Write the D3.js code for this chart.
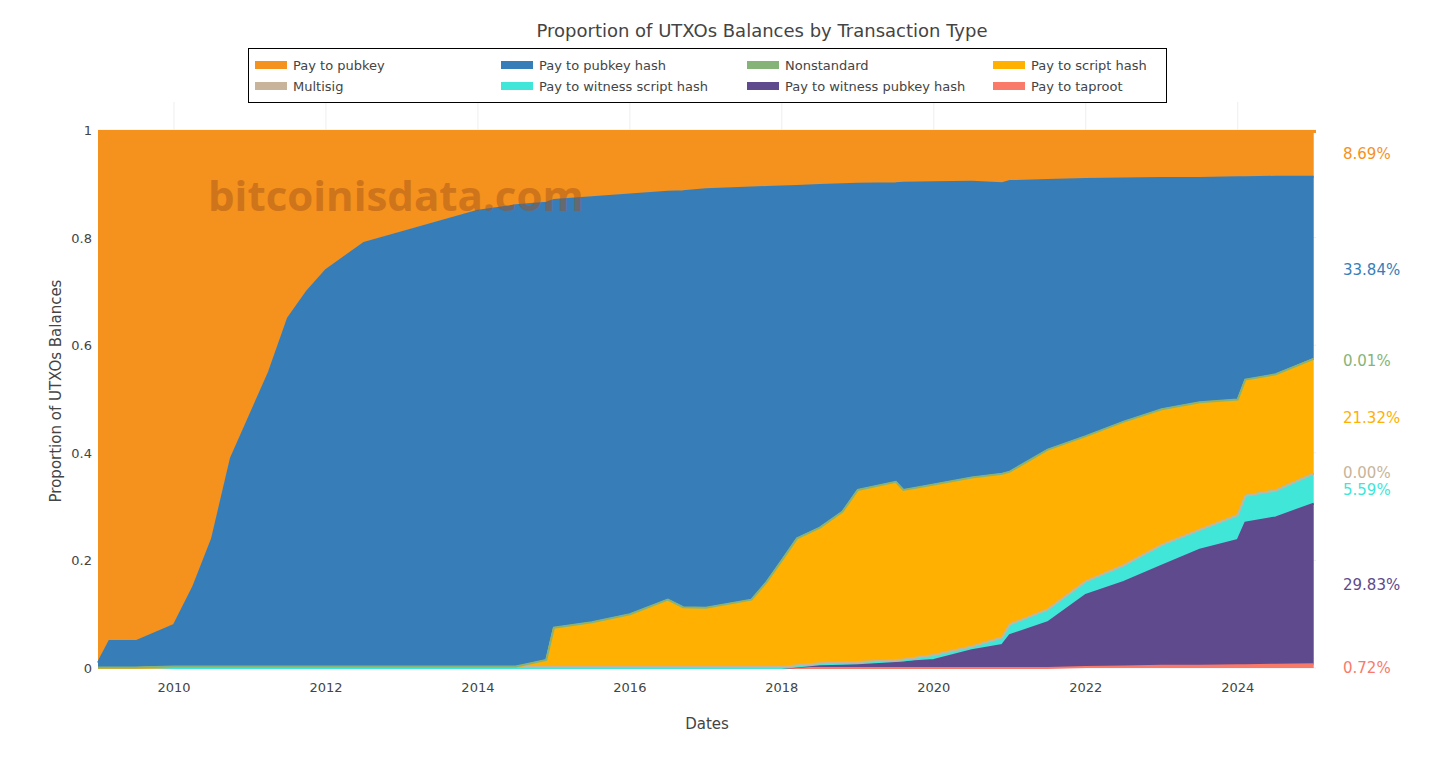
<!DOCTYPE html>
<html><head><meta charset="utf-8">
<script src="https://cdn.jsdelivr.net/npm/d3@7"></script>
<style>body{margin:0;background:#fff;font-family:"DejaVu Sans",sans-serif}</style>
</head><body><svg id="c" width="1456" height="762" font-family="DejaVu Sans, sans-serif"></svg>
<script>
const dates=[2009.0,2009.15,2009.5,2010.0,2010.25,2010.5,2010.75,2011.0,2011.25,2011.5,2011.75,2012.0,2012.5,2013.0,2013.5,2014.0,2014.5,2014.9,2015.0,2015.5,2016.0,2016.5,2016.7,2017.0,2017.6,2017.8,2018.0,2018.2,2018.5,2018.8,2019.0,2019.5,2019.6,2020.0,2020.5,2020.9,2021.0,2021.5,2022.0,2022.5,2023.0,2023.5,2024.0,2024.1,2024.5,2025.0];
const taproot=[0,0,0,0,0,0,0,0,0,0,0,0,0,0,0,0,0,0,0,0,0,0,0,0,0,0,0,0,0,0,0,0,0,0,0,0,0,0,.002,.003,.004,.004,.005,.005,.006,.0072];
const p2wpkh=[0,0,0,0,0,0,0,0,0,0,0,0,0,0,0,0,0,0,0,0,0,0,0,0,0,0,0,.002,.005,.006,.007,.010,.011,.015,.033,.043,.061,.085,.134,.157,.186,.216,.233,.265,.274,.2983];
const p2wsh=[0,0,0,0,0,0,0,0,0,0,0,0,0,0,0,0,0,0,0,0,0,0,0,0,0,0,0,.001,.002,.002,.002,.003,.003,.007,.006,.013,.019,.023,.024,.03,.038,.036,.046,.05,.05,.0559];
const multisig=[0,0,0,.002,.002,.002,.002,.002,.002,.002,.002,.002,.002,.002,.002,.002,.002,.002,.002,.002,.002,.002,.002,.002,.002,.002,.002,.002,.002,.002,.002,.002,.002,.002,.001,.001,.001,.001,.001,.001,.001,.001,0,0,0,0];
const p2sh=[0,0,0,0,0,0,0,0,0,0,0,0,0,0,0,0,0,.012,.072,.082,.097,.124,.11,.109,.124,.157,.197,.235,.251,.28,.319,.33,.314,.316,.313,.303,.283,.296,.269,.266,.251,.236,.214,.215,.215,.2132];
const nonstandard=[.001,.001,.001,.001,.001,.001,.001,.001,.001,.001,.001,.001,.001,.001,.001,.001,.001,.001,.001,.001,.001,.001,.001,.001,.001,.001,.001,.001,.001,.001,.001,.001,.001,.001,.001,.001,.001,.001,.001,.001,.001,.001,.001,.001,.001,.0001];
const p2pkh=[.009,.049,.049,.077,.147,.237,.387,.467,.547,.647,.697,.737,.787,.807,.827,.847,.857,.85,.795,.79,.78,.758,.773,.778,.766,.734,.695,.655,.637,.608,.569,.555,.571,.562,.55,.54,.54,.501,.478,.452,.43,.417,.413,.376,.367,.3384];
const p2pk=[.99,.95,.95,.92,.85,.76,.61,.53,.45,.35,.30,.26,.21,.19,.17,.15,.14,.135,.13,.125,.12,.115,.114,.11,.107,.106,.105,.104,.102,.101,.10,.099,.098,.097,.096,.099,.095,.093,.091,.090,.089,.089,.088,.088,.087,.0869];
const seriesNames=["Pay to taproot","Pay to witness pubkey hash","Pay to witness script hash","Multisig","Pay to script hash","Nonstandard","Pay to pubkey hash","Pay to pubkey"];
const seriesVals=[taproot,p2wpkh,p2wsh,multisig,p2sh,nonstandard,p2pkh,p2pk];
const colors=["#fa7a6a","#5e4a8c","#40e6d8","#c8b49a","#ffb000","#86b478","#377eb8","#f5911d"];
const endLabels=["0.72%","29.83%","5.59%","0.00%","21.32%","0.01%","33.84%","8.69%"];
const labelY=[0.0,0.155,0.330,0.362,0.464,0.571,0.740,0.955];
const legendOrder=[7,6,5,4,3,2,1,0];
const yTicks=[0,0.2,0.4,0.6,0.8,1];
const xTicks=[2010,2012,2014,2016,2018,2020,2022,2024];

const svg=d3.select("#c");
const L=98,R=1316,T=130,B=668;
const x=d3.scaleLinear().domain([2009,2025.03]).range([L,R]);
const y=d3.scaleLinear().domain([0,1]).range([B,T]);
const rows=dates.map((d,i)=>{const o={date:d};seriesNames.forEach((n,k)=>o[n]=seriesVals[k][i]);return o;});
const stacked=d3.stack().keys(seriesNames)(rows);

svg.append("g").selectAll("line").data(xTicks).join("line")
 .attr("x1",d=>x(d)).attr("x2",d=>x(d)).attr("y1",102).attr("y2",B).attr("stroke","#eee");
svg.append("g").selectAll("line").data(yTicks).join("line")
 .attr("x1",L).attr("x2",R).attr("y1",d=>y(d)).attr("y2",d=>y(d)).attr("stroke","#eee");

const area=d3.area().x(d=>x(d.data.date)).y0(d=>y(Math.min(1,d[0]))).y1(d=>y(Math.min(1,d[1]))); 
const line=d3.line().x(d=>x(d.data.date)).y(d=>y(Math.min(1,d[1])));
const g=svg.append("g");
stacked.forEach((s,k)=>{
 g.append("path").datum(s).attr("d",area).attr("fill",colors[k]);
});
// top series fills to 1
g.append("rect").attr("x",L).attr("y",T).attr("width",R-L).attr("height",3).attr("fill",colors[7]);
stacked.forEach((s,k)=>{
 if(k<7) g.append("path").datum(s).attr("d",line).attr("fill","none").attr("stroke",colors[k]).attr("stroke-width",2);
});

svg.append("text").attr("x",208).attr("y",211).text("bitcoinisdata.com")
 .attr("font-size",42).attr("font-weight","bold").attr("fill","#a0521a").attr("opacity",0.45)
 .attr("font-family","'Open Sans',sans-serif");

svg.append("g").selectAll("text").data(yTicks).join("text")
 .attr("x",L-6).attr("y",d=>y(d)+5).attr("text-anchor","end").attr("font-size",13).attr("fill","#444").text(d=>d);
svg.append("g").selectAll("text").data(xTicks).join("text")
 .attr("x",d=>x(d)).attr("y",B+24).attr("text-anchor","middle").attr("font-size",13).attr("fill","#444").text(d=>d);
svg.append("text").attr("x",707).attr("y",729).attr("text-anchor","middle").attr("font-size",15).attr("fill","#444").text("Dates");
svg.append("text").attr("transform","translate(61,391) rotate(-90)").attr("text-anchor","middle").attr("font-size",15).attr("fill","#444").text("Proportion of UTXOs Balances");
svg.append("text").attr("x",762).attr("y",37).attr("text-anchor","middle").attr("font-size",18).attr("fill","#444").text("Proportion of UTXOs Balances by Transaction Type");

svg.append("g").selectAll("text").data(endLabels).join("text")
 .attr("x",1343).attr("y",(d,i)=>y(labelY[i])+5).attr("font-size",15).attr("fill",(d,i)=>colors[i]).text(d=>d);

svg.append("rect").attr("x",248.5).attr("y",48.5).attr("width",918).attr("height",54).attr("fill","#fff").attr("stroke","#000");
const lg=svg.append("g").selectAll("g").data(legendOrder).join("g")
 .attr("transform",(k,i)=>`translate(${255+246*(i%4)},${65+21*Math.floor(i/4)})`);
lg.append("rect").attr("x",0).attr("y",-4).attr("width",32).attr("height",8).attr("fill",k=>colors[k]);
lg.append("text").attr("x",38).attr("y",5).attr("font-size",13).attr("fill","#444").text(k=>seriesNames[k]);
</script></body></html>
